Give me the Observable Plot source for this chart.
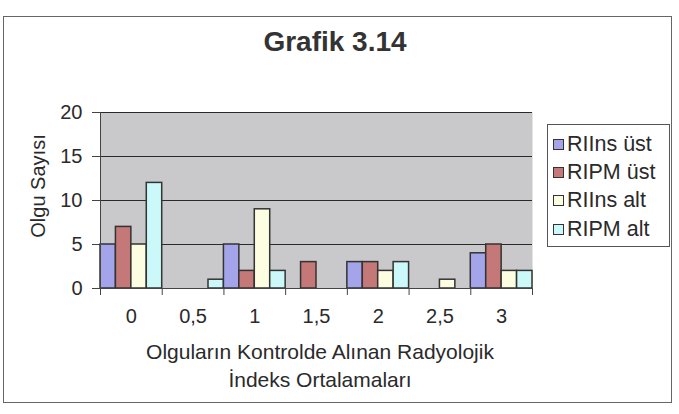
<!DOCTYPE html>
<html>
<head>
<meta charset="utf-8">
<script src="https://cdn.jsdelivr.net/npm/d3@7"></script>
<script src="https://cdn.jsdelivr.net/npm/@observablehq/plot@0.6"></script>
<style>
  body { margin: 0; background: #fff; font-family: Arial, "Liberation Sans", sans-serif; color: #2a2a2a; }
  #wrap { position: relative; width: 679px; height: 414px; overflow: hidden; }
  #box { position: absolute; left: 3px; top: 16px; width: 667px; height: 385px; border: 1px solid #666; }
  #title { position: absolute; left: 0; width: 670px; top: 26px; line-height: 32px; text-align: center; font-weight: bold; font-size: 28px; color: #333; }
  #chart { position: absolute; left: 0; top: 100px; }
  #ytitle { position: absolute; left: 38px; top: 186px; transform: translate(-50%, -50%) rotate(-90deg); font-size: 20px; white-space: nowrap; }
  .xtitle { position: absolute; left: 0; width: 640px; text-align: center; font-size: 21px; line-height: 28px; white-space: nowrap; }
  #legend { position: absolute; left: 547px; top: 124px; width: 123px; height: 123px; border: 1px solid #555; box-sizing: border-box; padding-top: 5px; }
  .row { display: flex; align-items: center; height: 28.3px; font-size: 21.5px; white-space: nowrap; }
  .sw { width: 9px; height: 9px; border: 1px solid #333; margin-left: 5px; margin-right: 3px; flex: none; }
</style>
</head>
<body>
<div id="wrap">
  <div id="box"></div>
  <div id="title">Grafik 3.14</div>
  <div id="ytitle">Olgu Sayısı</div>
  <div id="chart"></div>
  <div class="xtitle" id="xt1" style="top:338px">Olguların Kontrolde Alınan Radyolojik</div>
  <div class="xtitle" id="xt2" style="top:366px">İndeks Ortalamaları</div>
  <div id="legend"></div>
</div>
<script>
const categories = ["0", "0,5", "1", "1,5", "2", "2,5", "3"];
const seriesNames = ["RIIns üst", "RIPM üst", "RIIns alt", "RIPM alt"];
const riinsUst = [5, 0, 5, 0, 3, 0, 4];
const ripmUst  = [7, 0, 2, 3, 3, 0, 5];
const riinsAlt = [5, 0, 9, 0, 2, 1, 2];
const ripmAlt  = [12, 1, 2, 0, 3, 0, 2];
const yTicks = [0, 5, 10, 15, 20];
const colors = ["#a4a4ea", "#c47878", "#fdfde2", "#cbf8f8"];

const seriesValues = [riinsUst, ripmUst, riinsAlt, ripmAlt];
const rows = [];
categories.forEach((c, i) => {
  seriesNames.forEach((s, j) => {
    rows.push({cat: c, i, j, series: s, value: seriesValues[j][i]});
  });
});

const chart = Plot.plot({
  width: 545,
  height: 240,
  marginLeft: 100,
  marginRight: 13,
  marginTop: 12,
  marginBottom: 52,
  style: {fontFamily: "Arial, 'Liberation Sans', sans-serif", fontSize: "20px", color: "#2a2a2a", background: "transparent"},
  x: {domain: [0, categories.length], axis: null},
  y: {domain: [0, 20], axis: null},
  color: {domain: seriesNames, range: colors},
  marks: [
    Plot.frame({fill: "#c9c9cc", stroke: "none"}),
    Plot.ruleY(yTicks.filter(d => d > 0), {stroke: "#2a2a2a", strokeWidth: 1}),
    Plot.rect(rows.filter(d => d.value > 0), {
      x1: d => d.i + d.j / 4,
      x2: d => d.i + (d.j + 1) / 4,
      y1: 0,
      y2: "value",
      fill: "series",
      stroke: "#333",
      strokeWidth: 1.5
    }),
    Plot.ruleX([0], {stroke: "#444"}),
    Plot.ruleY([0], {stroke: "#444"}),
    Plot.axisY({ticks: yTicks, tickSize: 8, tickPadding: 10, label: null, fontSize: 20, stroke: "#444"}),
    Plot.axisX({ticks: d3.range(categories.length + 1), tickFormat: () => "", tickSize: 7, label: null, stroke: "#444"}),
    Plot.axisX({ticks: categories.map((c, i) => i + 0.5), tickFormat: d => categories[Math.floor(d)], tickSize: 0, tickPadding: 20, label: null, fontSize: 20})
  ]
});
document.getElementById("chart").appendChild(chart);

const legend = document.getElementById("legend");
seriesNames.forEach((s, j) => {
  const row = document.createElement("div");
  row.className = "row";
  const sw = document.createElement("span");
  sw.className = "sw";
  sw.style.background = colors[j];
  const t = document.createElement("span");
  t.textContent = s;
  row.appendChild(sw);
  row.appendChild(t);
  legend.appendChild(row);
});
</script>
</body>
</html>
